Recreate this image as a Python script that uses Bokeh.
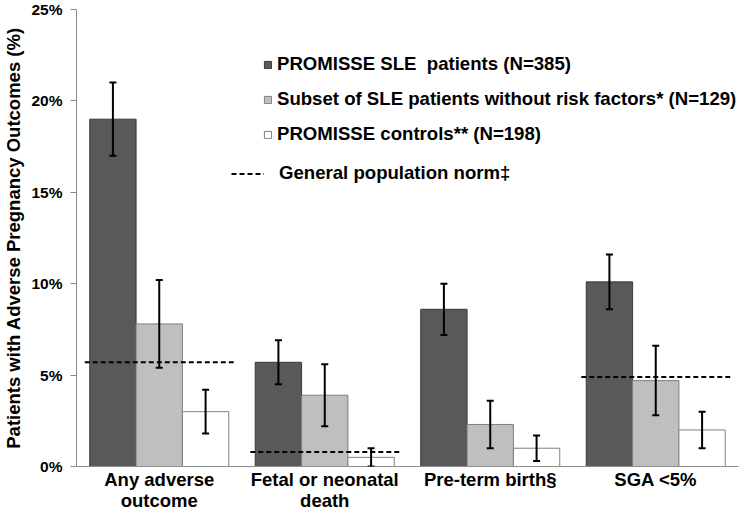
from bokeh.plotting import figure
from bokeh.models import (ColumnDataSource, Whisker, Legend, LegendItem,
                          FixedTicker, Range1d, TeeHead)
from bokeh.embed import file_html
from bokeh.resources import INLINE
import numpy as np

# ---------------- data ----------------
categories = ["Any adverse\noutcome", "Fetal or neonatal\ndeath",
              "Pre-term birth§", "SGA <5%"]
series_names = ["PROMISSE SLE  patients (N=385)",
                "Subset of SLE patients without risk factors* (N=129)",
                "PROMISSE controls** (N=198)"]
sle_values = [19.0, 5.7, 8.6, 10.1]
sle_lower = [17.0, 4.5, 7.2, 8.6]
sle_upper = [21.0, 6.9, 10.0, 11.6]
subset_values = [7.8, 3.9, 2.3, 4.7]
subset_lower = [5.4, 2.2, 1.0, 2.8]
subset_upper = [10.2, 5.6, 3.6, 6.6]
control_values = [3.0, 0.5, 1.0, 2.0]
control_lower = [1.8, 0.0, 0.3, 1.0]
control_upper = [4.2, 1.0, 1.7, 3.0]
norm_categories = ["Any adverse\noutcome", "Fetal or neonatal\ndeath", "SGA <5%"]
norm_values = [5.7, 0.8, 4.9]
norm_label = "General population norm‡"
y_ticks = [0, 5, 10, 15, 20, 25]
y_tick_labels = ["0%", "5%", "10%", "15%", "20%", "25%"]
y_axis_title = "Patients with Adverse Pregnancy Outcomes (%)"

# ---------------- styling ----------------
FONT = "Liberation Sans"
fills = ["#595959", "#bfbfbf", "#ffffff"]
outlines = ["#3a3a3a", "#7f7f7f", "#7f7f7f"]
offsets = [-0.28, 0.0, 0.28]
bar_w = 0.28

p = figure(width=742, height=513, output_backend="svg", toolbar_location=None,
           x_range=Range1d(0, len(categories)), y_range=Range1d(0, 25),
           min_border_left=71, min_border_right=4, min_border_top=9,
           min_border_bottom=0)
p.outline_line_color = None
p.grid.visible = False
p.background_fill_color = "white"

xc = np.arange(len(categories)) + 0.5
series = [(sle_values, sle_lower, sle_upper),
          (subset_values, subset_lower, subset_upper),
          (control_values, control_lower, control_upper)]
bar_renderers = []
for i, (vals, lo, hi) in enumerate(series):
    src = ColumnDataSource(dict(x=xc + offsets[i], top=vals, lower=lo, upper=hi))
    r = p.vbar(x="x", top="top", width=bar_w, source=src,
               fill_color=fills[i], line_color=outlines[i], line_width=1)
    bar_renderers.append(r)
    w = Whisker(base="x", upper="upper", lower="lower", source=src,
                line_color="black", line_width=2, level="overlay",
                upper_head=TeeHead(size=7, line_width=2, line_color="black"),
                lower_head=TeeHead(size=7, line_width=2, line_color="black"))
    p.add_layout(w)

norm_x = np.array([xc[categories.index(c)] for c in norm_categories])
norm_r = p.segment(x0=norm_x - 0.45, x1=norm_x + 0.45, y0=norm_values,
                   y1=norm_values, line_color="black", line_width=2,
                   line_dash="5 3")

# axes
p.xaxis.ticker = FixedTicker(ticks=list(xc))
p.xaxis.major_label_overrides = {float(x): c for x, c in zip(xc, categories)}
p.xaxis.major_tick_line_color = None
p.xaxis.major_tick_out = 0
p.xaxis.major_tick_in = 0
p.xaxis.minor_tick_line_color = None
p.xaxis.axis_line_color = "#8c8c8c"
p.xaxis.major_label_text_font = FONT
p.xaxis.major_label_text_font_style = "bold"
p.xaxis.major_label_text_font_size = "18.5px"
p.xaxis.major_label_text_line_height = 1.0
p.xaxis.major_label_text_color = "black"
p.xaxis.major_label_standoff = 2

p.yaxis.ticker = FixedTicker(ticks=y_ticks)
p.yaxis.major_label_overrides = {t: l for t, l in zip(y_ticks, y_tick_labels)}
p.yaxis.minor_tick_line_color = None
p.yaxis.major_tick_in = 0
p.yaxis.major_tick_out = 6
p.yaxis.major_tick_line_color = "#8c8c8c"
p.yaxis.axis_line_color = "#8c8c8c"
p.yaxis.major_label_text_font = FONT
p.yaxis.major_label_text_font_style = "bold"
p.yaxis.major_label_text_font_size = "15.5px"
p.yaxis.major_label_text_color = "black"
p.yaxis.major_label_standoff = 8
p.yaxis.axis_label = y_axis_title
p.yaxis.axis_label_text_font = FONT
p.yaxis.axis_label_text_font_style = "bold"
p.yaxis.axis_label_text_font_size = "18.5px"
p.yaxis.axis_label_text_color = "black"
p.yaxis.axis_label_standoff = 4

legend_common = dict(padding=0, margin=0, border_line_alpha=0,
                     background_fill_alpha=0, label_text_font=FONT,
                     label_text_font_style="bold", label_text_font_size="18.6px",
                     label_text_color="black")
leg1 = Legend(items=[LegendItem(label=n, renderers=[r])
                     for n, r in zip(series_names, bar_renderers)],
              location=(187, 321), glyph_width=9, glyph_height=9,
              label_standoff=5, spacing=13, **legend_common)
leg2 = Legend(items=[LegendItem(label=norm_label, renderers=[norm_r])],
              location=(155, 282), glyph_width=33, glyph_height=9,
              label_standoff=15, **legend_common)
p.add_layout(leg1)
p.add_layout(leg2)

open("out.html", "w").write(file_html(p, INLINE))
